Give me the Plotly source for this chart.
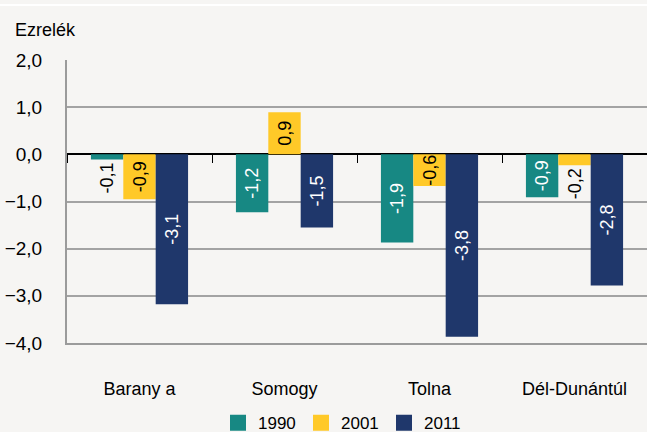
"""Population change by county, Dél-Dunántúl (thousand persons)."""

import plotly.graph_objects as go

regions = ["Barany a", "Somogy", "Tolna", "Dél-Dunántúl"]
years = ["1990", "2001", "2011"]

change_1990 = [-0.11, -1.23, -1.87, -0.91]
change_2001 = [-0.95, 0.89, -0.67, -0.23]
change_2011 = [-3.18, -1.55, -3.87, -2.78]

labels_1990 = ["-0,1", "-1,2", "-1,9", "-0,9"]
labels_2001 = ["-0,9", "0,9", "-0,6", "-0,2"]
labels_2011 = ["-3,1", "-1,5", "-3,8", "-2,8"]

FONT = "Liberation Sans, Arial, sans-serif"
BG = "#F6F5F3"
colors = ["#178883", "#FFC928", "#1F376B"]
inside_colors = ["white", "black", "white"]

series = [
    (change_1990, labels_1990),
    (change_2001, labels_2001),
    (change_2011, labels_2011),
]

fig = go.Figure()

for year, (vals, labels), color, inside in zip(years, series, colors, inside_colors):
    # small bars get the label underneath, the rest inside
    positions = ["outside" if abs(v) < 0.3 else "inside" for v in vals]
    fig.add_trace(
        go.Bar(
            name=year,
            x=regions,
            y=vals,
            marker_color=color,
            marker_line_width=0,
            text=labels,
            textposition=positions,
            textangle=-90,
            insidetextanchor="middle",
            insidetextfont=dict(family=FONT, size=18, color=inside),
            outsidetextfont=dict(family=FONT, size=18, color="black"),
            constraintext="none",
            cliponaxis=False,
            showlegend=False,
        )
    )
    # legend entry with a bigger square swatch
    fig.add_trace(
        go.Scatter(
            name=year,
            x=[None],
            y=[None],
            mode="markers",
            marker=dict(symbol="square", size=17, color=color),
            showlegend=True,
        )
    )

# category boundary ticks sitting on the zero line
fig.add_trace(go.Scatter(x=[None], y=[None], xaxis="x2", showlegend=False, hoverinfo="skip"))

fig.update_layout(
    width=647,
    height=432,
    margin=dict(l=67, r=0, t=60, b=89, autoexpand=False),
    paper_bgcolor=BG,
    plot_bgcolor=BG,
    separators=", ",
    font=dict(family=FONT, size=17, color="black"),
    barmode="group",
    bargap=0.33,
    bargroupgap=0,
    showlegend=True,
    legend=dict(
        orientation="h",
        x=0.475,
        xanchor="center",
        y=-0.22,
        yanchor="top",
        font=dict(family=FONT, size=17),
        itemsizing="trace",
        entrywidth=38,
        bgcolor="rgba(0,0,0,0)",
    ),
    xaxis=dict(
        type="category",
        showgrid=False,
        showline=True,
        linecolor="#9B9B9B",
        linewidth=2,
        ticks="",
        ticklabelstandoff=28,
        tickfont=dict(family=FONT, size=18),
        zeroline=False,
    ),
    xaxis2=dict(
        overlaying="x",
        anchor="free",
        position=4 / 6,
        range=[-0.5, 3.5],
        tickvals=[-0.5, 0.5, 1.5, 2.5],
        ticks="outside",
        ticklen=8,
        tickwidth=1,
        tickcolor="black",
        showticklabels=False,
        showgrid=False,
        showline=False,
        zeroline=False,
    ),
    yaxis=dict(
        range=[-4, 2],
        dtick=1,
        tickformat=".1f",
        showgrid=True,
        gridcolor="#A3A3A3",
        gridwidth=1.5,
        zeroline=True,
        zerolinecolor="black",
        zerolinewidth=1.5,
        showline=True,
        linecolor="#9B9B9B",
        linewidth=2,
        ticks="",
        ticklabelstandoff=19,
        tickfont=dict(family=FONT, size=19),
    ),
    annotations=[
        dict(
            text="Ezrelék",
            xref="paper",
            yref="paper",
            x=(13 - 67) / 580,
            y=1 + 30 / 283,
            xanchor="left",
            yanchor="middle",
            showarrow=False,
            font=dict(family=FONT, size=18),
        )
    ],
    shapes=[
        dict(
            type="line",
            xref="paper",
            yref="paper",
            x0=-0.2,
            x1=1.1,
            y0=1 + 55 / 283,
            y1=1 + 55 / 283,
            line=dict(color="white", width=2),
        )
    ],
)

# drop the default page margin so the chart fills the window
fig.write_html(
    "out.html",
    config={"displayModeBar": False},
    post_script="document.body.style.margin='0';document.body.style.overflow='hidden';",
)
